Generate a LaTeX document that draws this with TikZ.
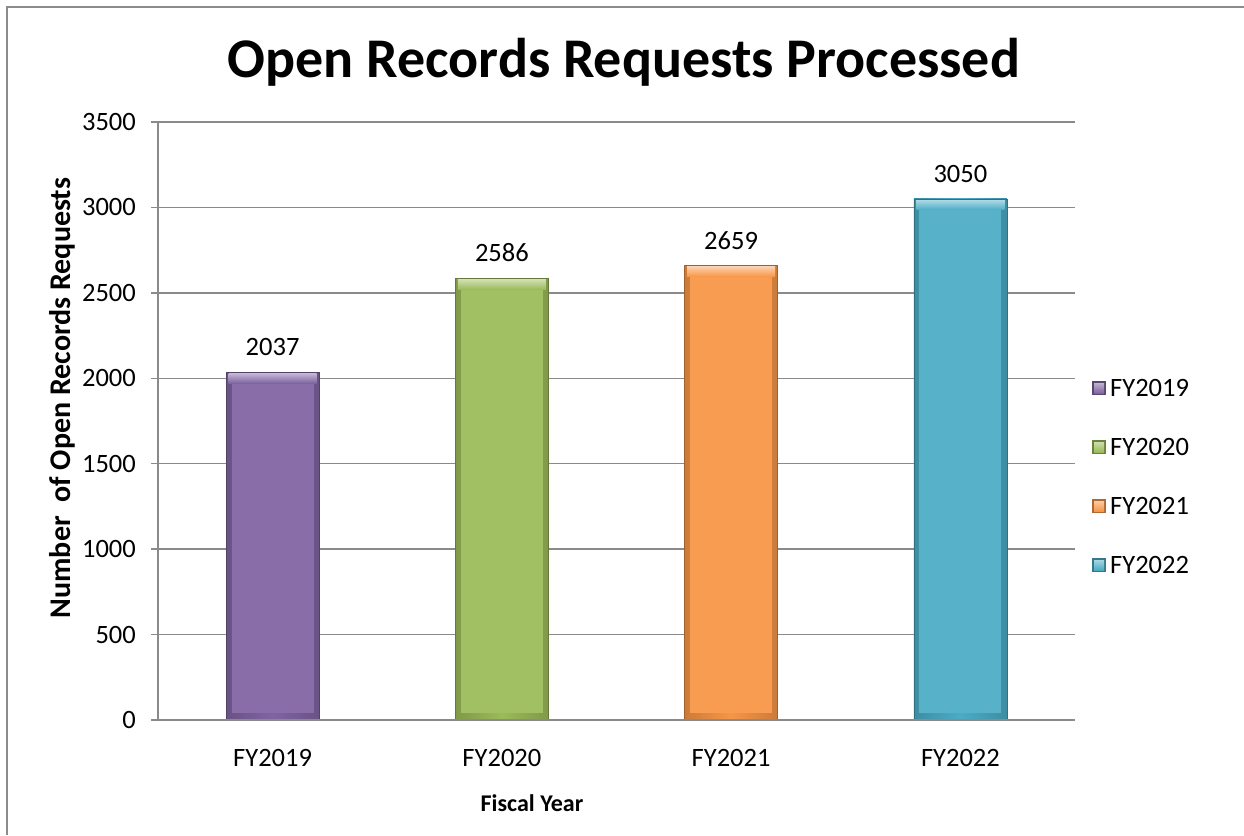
\documentclass[tikz,border=0pt]{standalone}
\usepackage{fontspec}
\setmainfont{Carlito}

\definecolor{framegray}{HTML}{8C8C8C}
\definecolor{gridgray}{HTML}{8A8A8A}
\definecolor{fyviolet}{HTML}{8064A2}
\definecolor{fygreen}{HTML}{9BBB59}
\definecolor{fyorange}{HTML}{F79646}
\definecolor{fyaqua}{HTML}{4BACC6}

\tikzset{
  gridline/.style={draw=gridgray, line width=1.3pt},
  ticklabel/.style={anchor=east},
  catlabel/.style={anchor=center},
  vallabel/.style={anchor=south},
  legendbox/.style={anchor=west},
}

% one bevelled column: name, centre x, top y, colour
\newcommand\fybar[4]{%
  \shade[left color=#4!82!black, right color=#4!82!black, middle color=#4]
    (#2-46.5,#3) rectangle (#2+46.5,720);
  \fill[#4!94!white] (#2-41,#3+6) rectangle (#2+41,713);
  \shade[top color=#4!45!white, bottom color=#4] (#2-44,#3+1) rectangle (#2+44,#3+11);
  \draw[#4!65!black, line width=0.8pt] (#2-46.5,720) -- (#2-46.5,#3) -- (#2+46.5,#3) -- (#2+46.5,720);
  \coordinate (#1) at (#2,#3);
}
% small bevelled legend key
\newcommand\fykey[3]{%
  \fill[#3!70!black] (1092,#2-7) rectangle (1106,#2+7);
  \shade[top color=#3!50!white, bottom color=#3] (1094,#2-5) rectangle (1104,#2+5);
  \coordinate (#1) at (1106,#2);
}

\begin{document}
\begin{tikzpicture}[x=1pt,y=-1pt,
    every node/.style={font=\fontsize{26.5}{30}\selectfont, inner sep=0pt}]
  \useasboundingbox (0,0) rectangle (1244,835);
  \fill[white] (0,0) rectangle (1244,835);
  \draw[framegray, line width=1.6pt] (7,835) -- (7,7) -- (1244,7);

  \node[font=\bfseries\fontsize{56}{64}\selectfont] (title) at (624,62) {Open Records Requests Processed};

  % grid and value axis
  \draw[gridline] (151,634.6) -- (1075,634.6);
  \draw[gridline] (151,549.1) -- (1075,549.1);
  \draw[gridline] (151,463.7) -- (1075,463.7);
  \draw[gridline] (151,378.3) -- (1075,378.3);
  \draw[gridline] (151,292.9) -- (1075,292.9);
  \draw[gridline] (151,207.4) -- (1075,207.4);
  \draw[gridline] (151,122) -- (1075,122);
  \draw[gridline] (158,122) -- (158,720);

  \node[ticklabel] (t0) at (136,720) {0};
  \node[ticklabel] (t500) at (136,634.6) {500};
  \node[ticklabel] (t1000) at (136,549.1) {1000};
  \node[ticklabel] (t1500) at (136,463.7) {1500};
  \node[ticklabel] (t2000) at (136,378.3) {2000};
  \node[ticklabel] (t2500) at (136,292.9) {2500};
  \node[ticklabel] (t3000) at (136,207.4) {3000};
  \node[ticklabel] (t3500) at (136,122) {3500};

  \node[rotate=90, font=\bfseries\fontsize{30}{34}\selectfont] (ytitle) at (62,398) {Number\ \ of Open Records Requests};

  % columns
  \fybar{b19}{272.6}{372.0}{fyviolet}
  \fybar{b20}{501.9}{278.2}{fygreen}
  \fybar{b21}{731.1}{265.7}{fyorange}
  \fybar{b22}{960.4}{198.9}{fyaqua}

  \draw[gridline] (151,720) -- (1075,720);

  \node[vallabel] (v19) at ([yshift=16pt]b19) {2037};
  \node[vallabel] (v20) at ([yshift=16pt]b20) {2586};
  \node[vallabel] (v21) at ([yshift=16pt]b21) {2659};
  \node[vallabel] (v22) at ([yshift=16pt]b22) {3050};

  \node[catlabel] (c19) at (272.6,758) {FY2019};
  \node[catlabel] (c20) at (501.9,758) {FY2020};
  \node[catlabel] (c21) at (731.1,758) {FY2021};
  \node[catlabel] (c22) at (960.4,758) {FY2022};
  \node[font=\bfseries\fontsize{24}{30}\selectfont] (xtitle) at (532,803) {Fiscal Year};

  % legend
  \fykey{k19}{388}{fyviolet}
  \fykey{k20}{447}{fygreen}
  \fykey{k21}{506}{fyorange}
  \fykey{k22}{565}{fyaqua}
  \node[legendbox] (l19) at ([xshift=4pt]k19) {FY2019};
  \node[legendbox] (l20) at ([xshift=4pt]k20) {FY2020};
  \node[legendbox] (l21) at ([xshift=4pt]k21) {FY2021};
  \node[legendbox] (l22) at ([xshift=4pt]k22) {FY2022};
\end{tikzpicture}
\end{document}
